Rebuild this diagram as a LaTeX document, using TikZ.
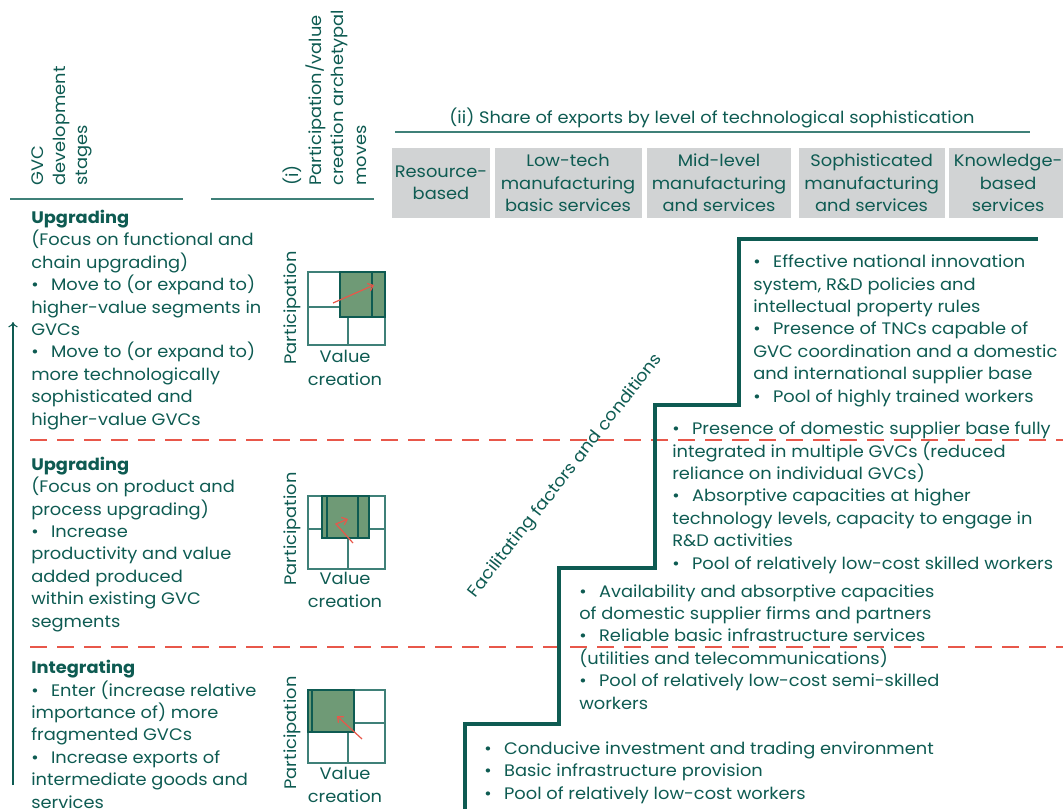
\documentclass[tikz,border=0pt]{standalone}
\usepackage{fontspec}
\setmainfont{Poppins}[FakeStretch=1.07]
\usepackage{xcolor}
\usetikzlibrary{arrows.meta,positioning,calc}

\definecolor{gvcteal}{HTML}{0E5B52}
\definecolor{gvcline}{HTML}{3F8078}
\definecolor{gvcgreen}{HTML}{6F9A76}
\definecolor{gvcgrey}{HTML}{D1D3D4}
\definecolor{gvcred}{HTML}{E8574A}

\newcommand{\bul}{•\hspace{0.75em}}

\tikzset{
	basefont/.style={font=\fontsize{12.5}{16.8}\selectfont},
	bodytext/.style={basefont, anchor=base west, inner sep=0, align=left, text=gvcteal},
	headtext/.style={basefont, anchor=north west, inner sep=0, align=left, text=gvcteal, rotate=90},
	headbox/.style={basefont, fill=gvcgrey, text=gvcteal, align=center, inner sep=0, minimum height=52.5pt},
	headrule/.style={draw=gvcline, line width=1.1pt},
	stagesep/.style={draw=gvcred, line width=1.1pt, dash pattern=on 12.75pt off 7.5pt},
	gridline/.style={draw=gvcline, line width=1.1pt},
	posbox/.style={fill=gvcgreen, draw=gvcteal, line width=1.5pt},
	movearrow/.style={draw=gvcred, line width=0.9pt, -{Straight Barb[length=3.5pt,width=6pt]}},
	iconlab/.style={basefont, text=gvcteal, inner sep=0, align=center},
	stair/.style={draw=gvcteal, line width=2.3pt}
}

\begin{document}
\begin{tikzpicture}[x=0.75pt, y=-0.75pt]
	
	\useasboundingbox (0,0) rectangle (1063,809);
	
	% column headings
	\node[headtext] (stagehead) at (31,186) {GVC\\development\\stages};
	\node[headtext] (movehead) at (283,186) {(i)\\Participation/value\\creation archetypal\\moves};
	\draw[headrule] (10,199) -- (183,199);
	\draw[headrule] (211,199) -- (374,199);
	
	\node[basefont, text=gvcteal, inner sep=0] (sharehead) at (712,118) {(ii) Share of exports by level of technological sophistication};
	\draw[headrule] (395,132) -- (1030,132);
	
	\node[headbox, minimum width=73.5pt] (res) at (441,183) {Resource-\\based};
	\node[headbox, minimum width=110.25pt, right=3pt of res] (low) {Low-tech\\manufacturing\\basic services};
	\node[headbox, minimum width=108pt, right=3.75pt of low] (mid) {Mid-level\\manufacturing\\and services};
	\node[headbox, minimum width=109.5pt, right=5.25pt of mid] (soph) {Sophisticated\\manufacturing\\and services};
	\node[headbox, minimum width=88.5pt, right=3pt of soph] (know) {Knowledge-\\based\\services};
	
	% stage separators
	\draw[stagesep] (30,440) -- (1063,440);
	\draw[stagesep] (30,647) -- (1063,647);
	
	% GVC development stages (anchored at the last baseline)
	\node[bodytext] (stage3) at (31,425) {\textbf{Upgrading}\\(Focus on functional and\\chain upgrading)\\\bul Move to (or expand to)\\higher-value segments in\\GVCs\\\bul Move to (or expand to)\\more technologically\\sophisticated and\\higher-value GVCs};
	\node[bodytext] (stage2) at (31,627) {\textbf{Upgrading}\\(Focus on product and\\process upgrading)\\\bul Increase\\productivity and value\\added produced\\within existing GVC\\segments};
	\node[bodytext] (stage1) at (31,808) {\textbf{Integrating}\\\bul Enter (increase relative\\importance of) more\\fragmented GVCs\\\bul Increase exports of\\intermediate goods and\\services};
	
	\coordinate (arrbot) at (13,785);
	\coordinate (arrtop) at (13,322);
	\draw[gvcteal, line width=0.8pt, -{To[length=4pt,width=7pt]}] (arrbot) -- (arrtop);
	
	% archetypal moves
	\begin{scope}[shift={(308,272)}]
		\draw[gridline] (0,0) rectangle (77,73) (0,35) -- (77,35) (40,0) -- (40,73);
		\draw[posbox] (32,0) rectangle (77,45);
		\draw[gvcteal, line width=1.5pt] (64,0) -- (64,45);
		\draw[movearrow] (25,31) -- (66,13);
	\end{scope}
	\node[iconlab, rotate=90] (part3) at (292,308) {Participation};
	\node[iconlab] (val3) at (345,368) {Value\\creation};
	
	\begin{scope}[shift={(308,496)}]
		\draw[gridline] (0,0) rectangle (77,73) (0,33) -- (77,33) (40,0) -- (40,73);
		\draw[posbox] (14,0) rectangle (61,42);
		\draw[gvcteal, line width=1.5pt] (19,0) -- (19,42) (50,0) -- (50,42);
		\draw[movearrow] (45,47) -- (28,28) -- (40,23);
	\end{scope}
	\node[iconlab, rotate=90] (part2) at (292,529) {Participation};
	\node[iconlab] (val2) at (345,590) {Value\\creation};
	
	\begin{scope}[shift={(308,690)}]
		\draw[gridline] (0,0) rectangle (77,73) (0,33) -- (77,33) (40,0) -- (40,73);
		\draw[posbox] (0,0) rectangle (46,42);
		\draw[gvcteal, line width=1.5pt] (4,0) -- (4,42);
		\draw[movearrow] (54,49) -- (29,26);
	\end{scope}
	\node[iconlab, rotate=90] (part1) at (292,733) {Participation};
	\node[iconlab] (val1) at (345,785) {Value\\creation};
	
	% facilitating factors and conditions
	\draw[stair] (465,812) -- (465,724) -- (559,724) -- (559,568) -- (655,568)
		-- (655,405) -- (739,405) -- (739,239) -- (1038,239);
	
	\node[basefont, text=gvcteal, inner sep=0, rotate=52] (facil) at (566,476) {Facilitating factors and conditions};
	
	\node[bodytext] (cond4) at (753,402) {\bul Effective national innovation\\system, R\&D policies and\\intellectual property rules\\\bul Presence of TNCs capable of\\GVC coordination and a domestic\\and international supplier base\\\bul Pool of highly trained workers};
	\node[bodytext] (cond3) at (672,569) {\bul Presence of domestic supplier base fully\\integrated in multiple GVCs (reduced\\reliance on individual GVCs)\\\bul Absorptive capacities at higher\\technology levels, capacity to engage in\\R\&D activities\\\bul Pool of relatively low-cost skilled workers};
	\node[bodytext] (cond2) at (579,709) {\bul Availability and absorptive capacities\\of domestic supplier firms and partners\\\bul Reliable basic infrastructure services\\(utilities and telecommunications)\\\bul Pool of relatively low-cost semi-skilled\\workers};
	\node[bodytext] (cond1) at (484,799) {\bul Conducive investment and trading environment\\\bul Basic infrastructure provision\\\bul Pool of relatively low-cost workers};
	
\end{tikzpicture}
\end{document}
